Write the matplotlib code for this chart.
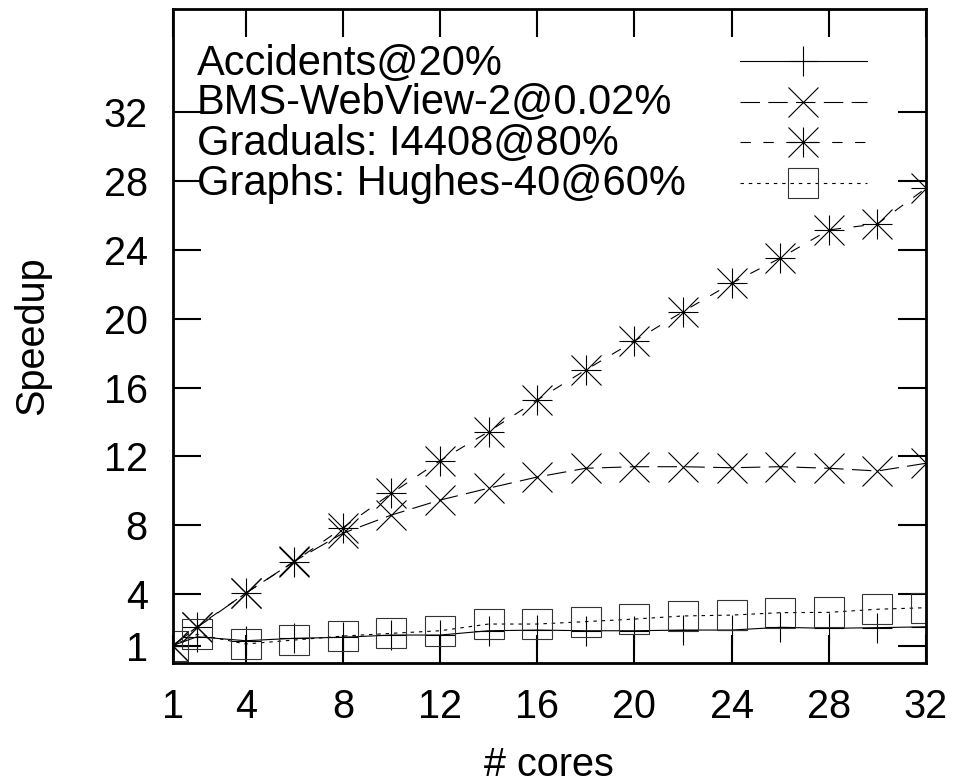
import matplotlib
matplotlib.use("Agg")
import matplotlib.pyplot as plt
from matplotlib.legend_handler import HandlerTuple

plt.rcParams['font.family'] = ['Liberation Sans', 'DejaVu Sans']
plt.rcParams['lines.scale_dashes'] = False

cores = [1, 2, 4, 6, 8, 10, 12, 14, 16, 18, 20, 22, 24, 26, 28, 30, 32]

accidents = [1.0, 1.51, 1.28, 1.42, 1.48, 1.61, 1.61, 1.86, 1.90, 1.86, 1.86,
             1.90, 1.90, 2.06, 2.00, 2.04, 2.09]
bms = [1.0, 2.05, 4.04, 5.90, 7.53, 8.59, 9.46, 10.15, 10.80, 11.31, 11.40,
       11.40, 11.34, 11.40, 11.31, 11.15, 11.60]
graduals = [1.0, 2.09, 4.04, 5.88, 7.85, 9.85, 11.75, 13.44, 15.28, 17.03, 18.71,
            20.42, 22.07, 23.53, 25.17, 25.52, 27.60]
graphs = [1.0, 1.65, 1.09, 1.32, 1.55, 1.71, 1.86, 2.25, 2.25, 2.39, 2.54,
          2.72, 2.77, 2.91, 2.93, 3.11, 3.20]

labels = ["Accidents@20%", "BMS-WebView-2@0.02%", "Graduals: I4408@80%",
          "Graphs: Hughes-40@60%"]
xticks = [1, 4, 8, 12, 16, 20, 24, 28, 32]
yticks = [1, 4, 8, 12, 16, 20, 24, 28, 32]

FS = 28.5
KEY_FS = 30
MS = 21
LW = 0.8

fig = plt.figure(figsize=(9.56, 7.83), dpi=100)
ax = fig.add_axes([0.1807, 0.1536, 0.9686 - 0.1807, 0.9881 - 0.1536])

l1, = ax.plot(cores, accidents, color='black', lw=LW, ls='-',
              marker='+', ms=MS, mew=LW)
l2, = ax.plot(cores, bms, color='black', lw=LW, ls=(0, (14, 6)),
              marker='x', ms=MS, mew=LW)
l3, = ax.plot(cores, graduals, color='black', lw=LW, ls=(0, (7.5, 9)),
              marker='+', ms=MS, mew=LW)
l3b, = ax.plot(cores, graduals, color='black', lw=0, ls='none',
               marker='x', ms=MS, mew=LW)
l4, = ax.plot(cores, graphs, color='black', lw=LW, ls=(0, (2.5, 3.5)),
              marker='s', ms=MS, mew=LW, mfc='none', mec='#333333')

ax.set_xlim(1, 32)
ax.set_ylim(0, 38)
ax.set_xticks(xticks)
ax.set_yticks(yticks)
ax.minorticks_off()
ax.tick_params(which='major', direction='in', length=20, width=1.5,
               top=True, right=True, labelsize=FS)
ax.tick_params(axis='x', pad=18.5)
ax.tick_params(axis='y', pad=18)
for s in ax.spines.values():
    s.set_linewidth(2.0)

ax.set_xlabel('# cores', fontsize=FS, labelpad=14)
ax.set_ylabel('Speedup', fontsize=FS, labelpad=38)

# key samples on the right, key texts left-aligned on the left
leg = ax.legend([l1, l2, (l3, l3b), l4], ['', '', '', ''],
                handler_map={tuple: HandlerTuple(ndivide=1, pad=0)},
                loc='upper left', bbox_to_anchor=(0.753, 0.945),
                frameon=False, fontsize=FS, handlelength=3.2,
                handleheight=0.7, handletextpad=0, labelspacing=0.06,
                borderaxespad=0, borderpad=0)

row_y = [0.917, 0.856, 0.794, 0.732]
for lab, yy in zip(labels, row_y):
    ax.text(0.032, yy, lab, transform=ax.transAxes, fontsize=KEY_FS,
            ha='left', va='center')

fig.savefig('out.png', dpi=100)
